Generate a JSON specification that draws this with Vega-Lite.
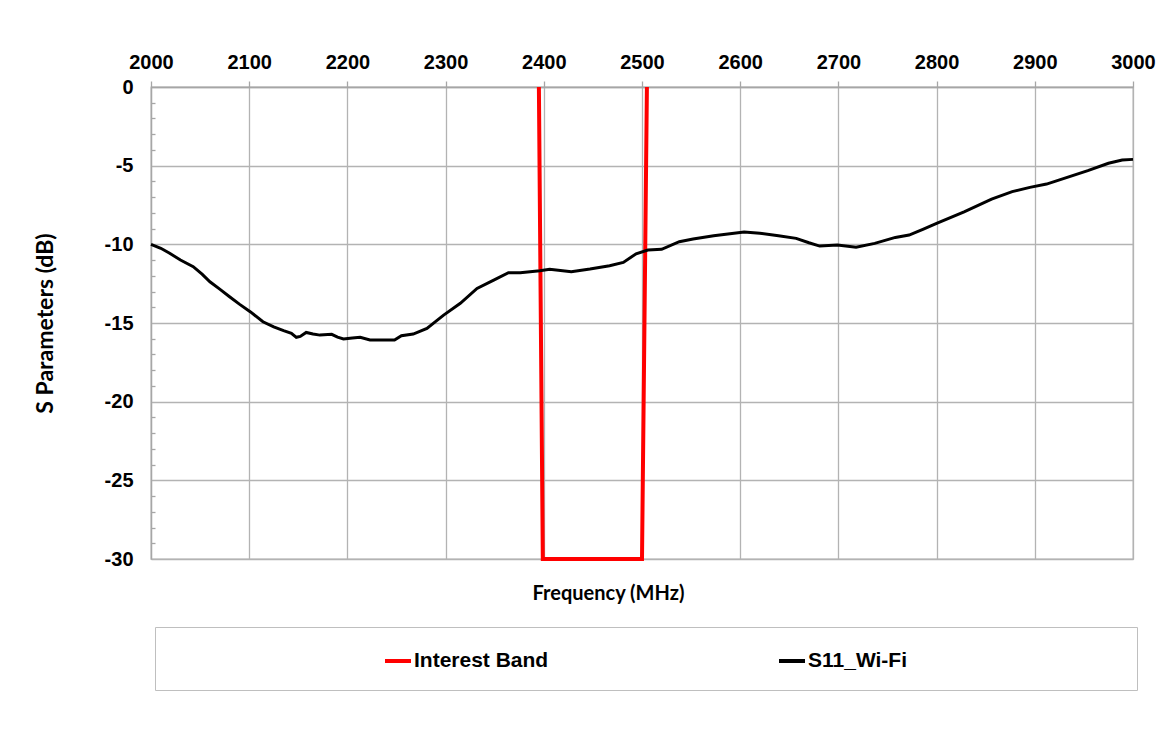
{
  "$schema": "https://vega.github.io/schema/vega-lite/v6.json",
  "width": 982,
  "height": 472,
  "autosize": {"type": "none"},
  "padding": {"left": 151, "top": 87, "right": 32, "bottom": 172},
  "background": "white",
  "config": {
    "view": {"stroke": "#b3b3b3", "strokeWidth": 1.3},
    "axis": {
      "gridColor": "#b3b3b3",
      "gridWidth": 1.3,
      "domainColor": "#a6a6a6",
      "domainWidth": 1.3,
      "tickColor": "#a6a6a6",
      "tickWidth": 1.3,
      "labelFont": "Liberation Sans",
      "labelFontSize": 20,
      "labelFontWeight": "bold",
      "labelColor": "#000000",
      "titleColor": "#000000",
      "titleFont": "Lato",
      "titleFontSize": 20,
      "titleFontWeight": "bold"
    },
    "legend": {
      "orient": "none",
      "legendX": 4,
      "legendY": 540,
      "direction": "horizontal",
      "strokeColor": "#bfbfbf",
      "fillColor": "#ffffff",
      "padding": 19,
      "labelFont": "Liberation Sans",
      "labelFontSize": 21,
      "labelFontWeight": "bold",
      "labelColor": "#000000",
      "labelOffset": 1,
      "labelLimit": 0,
      "symbolType": "stroke",
      "symbolSize": 676,
      "symbolStrokeWidth": 4,
      "columnPadding": 222,
      "titleOrient": "left",
      "titlePadding": 209
    }
  },
  "datasets": {
    "band": [
      {"series": "Interest Band", "f": 2395, "s": 0},
      {"series": "Interest Band", "f": 2399, "s": -30},
      {"series": "Interest Band", "f": 2500, "s": -30},
      {"series": "Interest Band", "f": 2505, "s": 0}
    ],
    "s11": [
      {"series": "S11_Wi-Fi", "f": 2000, "s": -10.0},
      {"series": "S11_Wi-Fi", "f": 2010, "s": -10.25},
      {"series": "S11_Wi-Fi", "f": 2019, "s": -10.57},
      {"series": "S11_Wi-Fi", "f": 2030, "s": -11.0},
      {"series": "S11_Wi-Fi", "f": 2043, "s": -11.42},
      {"series": "S11_Wi-Fi", "f": 2052, "s": -11.9},
      {"series": "S11_Wi-Fi", "f": 2060, "s": -12.38},
      {"series": "S11_Wi-Fi", "f": 2070, "s": -12.85},
      {"series": "S11_Wi-Fi", "f": 2080, "s": -13.33},
      {"series": "S11_Wi-Fi", "f": 2090, "s": -13.8},
      {"series": "S11_Wi-Fi", "f": 2101, "s": -14.28},
      {"series": "S11_Wi-Fi", "f": 2114, "s": -14.92},
      {"series": "S11_Wi-Fi", "f": 2125, "s": -15.25},
      {"series": "S11_Wi-Fi", "f": 2135, "s": -15.49},
      {"series": "S11_Wi-Fi", "f": 2143, "s": -15.65},
      {"series": "S11_Wi-Fi", "f": 2148, "s": -15.91},
      {"series": "S11_Wi-Fi", "f": 2152, "s": -15.85},
      {"series": "S11_Wi-Fi", "f": 2158, "s": -15.6},
      {"series": "S11_Wi-Fi", "f": 2165, "s": -15.7},
      {"series": "S11_Wi-Fi", "f": 2172, "s": -15.77},
      {"series": "S11_Wi-Fi", "f": 2184, "s": -15.72},
      {"series": "S11_Wi-Fi", "f": 2190, "s": -15.9},
      {"series": "S11_Wi-Fi", "f": 2196, "s": -16.02},
      {"series": "S11_Wi-Fi", "f": 2205, "s": -15.95},
      {"series": "S11_Wi-Fi", "f": 2213, "s": -15.91},
      {"series": "S11_Wi-Fi", "f": 2223, "s": -16.08},
      {"series": "S11_Wi-Fi", "f": 2237, "s": -16.08},
      {"series": "S11_Wi-Fi", "f": 2248, "s": -16.08},
      {"series": "S11_Wi-Fi", "f": 2255, "s": -15.81},
      {"series": "S11_Wi-Fi", "f": 2267, "s": -15.7},
      {"series": "S11_Wi-Fi", "f": 2281, "s": -15.34},
      {"series": "S11_Wi-Fi", "f": 2290, "s": -14.9},
      {"series": "S11_Wi-Fi", "f": 2298, "s": -14.5},
      {"series": "S11_Wi-Fi", "f": 2315, "s": -13.75},
      {"series": "S11_Wi-Fi", "f": 2332, "s": -12.8},
      {"series": "S11_Wi-Fi", "f": 2349, "s": -12.27},
      {"series": "S11_Wi-Fi", "f": 2364, "s": -11.8},
      {"series": "S11_Wi-Fi", "f": 2376, "s": -11.8},
      {"series": "S11_Wi-Fi", "f": 2396, "s": -11.68},
      {"series": "S11_Wi-Fi", "f": 2406, "s": -11.59},
      {"series": "S11_Wi-Fi", "f": 2428, "s": -11.74},
      {"series": "S11_Wi-Fi", "f": 2447, "s": -11.57},
      {"series": "S11_Wi-Fi", "f": 2467, "s": -11.36},
      {"series": "S11_Wi-Fi", "f": 2481, "s": -11.15},
      {"series": "S11_Wi-Fi", "f": 2494, "s": -10.6},
      {"series": "S11_Wi-Fi", "f": 2506, "s": -10.36},
      {"series": "S11_Wi-Fi", "f": 2520, "s": -10.32},
      {"series": "S11_Wi-Fi", "f": 2538, "s": -9.83},
      {"series": "S11_Wi-Fi", "f": 2552, "s": -9.66},
      {"series": "S11_Wi-Fi", "f": 2573, "s": -9.45},
      {"series": "S11_Wi-Fi", "f": 2604, "s": -9.22},
      {"series": "S11_Wi-Fi", "f": 2620, "s": -9.3},
      {"series": "S11_Wi-Fi", "f": 2639, "s": -9.45},
      {"series": "S11_Wi-Fi", "f": 2657, "s": -9.62},
      {"series": "S11_Wi-Fi", "f": 2670, "s": -9.9},
      {"series": "S11_Wi-Fi", "f": 2681, "s": -10.11},
      {"series": "S11_Wi-Fi", "f": 2699, "s": -10.04},
      {"series": "S11_Wi-Fi", "f": 2718, "s": -10.19},
      {"series": "S11_Wi-Fi", "f": 2737, "s": -9.94},
      {"series": "S11_Wi-Fi", "f": 2758, "s": -9.56},
      {"series": "S11_Wi-Fi", "f": 2772, "s": -9.41},
      {"series": "S11_Wi-Fi", "f": 2786, "s": -9.05},
      {"series": "S11_Wi-Fi", "f": 2800, "s": -8.67},
      {"series": "S11_Wi-Fi", "f": 2828, "s": -7.93},
      {"series": "S11_Wi-Fi", "f": 2856, "s": -7.12},
      {"series": "S11_Wi-Fi", "f": 2877, "s": -6.65},
      {"series": "S11_Wi-Fi", "f": 2895, "s": -6.38},
      {"series": "S11_Wi-Fi", "f": 2912, "s": -6.17},
      {"series": "S11_Wi-Fi", "f": 2933, "s": -5.74},
      {"series": "S11_Wi-Fi", "f": 2954, "s": -5.32},
      {"series": "S11_Wi-Fi", "f": 2975, "s": -4.85},
      {"series": "S11_Wi-Fi", "f": 2989, "s": -4.64},
      {"series": "S11_Wi-Fi", "f": 3000, "s": -4.6}
    ]
  },
  "layer": [
    {
      "data": {"name": "band"},
      "mark": {"type": "line", "strokeWidth": 4, "strokeJoin": "miter", "clip": false},
      "encoding": {
        "x": {
          "field": "f",
          "type": "quantitative",
          "scale": {"domain": [2000, 3000], "nice": false, "zero": false},
          "axis": {
            "orient": "bottom",
            "labels": false,
            "ticks": false,
            "domain": false,
            "grid": false,
            "title": "Frequency (MHz)",
            "titleX": 457,
            "titleY": 40,
            "titleAlign": "center",
            "titleBaseline": "alphabetic"
          }
        },
        "y": {
          "field": "s",
          "type": "quantitative",
          "scale": {"domain": [-30, 0], "nice": false, "zero": false},
          "axis": {
            "values": [-30, -29, -28, -27, -26, -25, -24, -23, -22, -21, -20, -19, -18, -17, -16, -15, -14, -13, -12, -11, -10, -9, -8, -7, -6, -5, -4, -3, -2, -1, 0],
            "tickCount": 40,
            "labelExpr": "datum.value % 5 === 0 ? '' + datum.value : ''",
            "labelOverlap": false,
            "grid": true,
            "gridOpacity": {"condition": {"test": "datum.value % 5 === 0", "value": 1}, "value": 0},
            "tickOpacity": {"condition": {"test": "datum.value % 5 === 0", "value": 0}, "value": 1},
            "tickSize": -4,
            "labelPadding": 22,
            "title": "S Parameters (dB)",
            "titleFontSize": 23,
            "titleX": -99,
            "titleY": 236,
            "titleAngle": -90,
            "titleAlign": "center",
            "titleBaseline": "alphabetic"
          }
        },
        "color": {
          "field": "series",
          "type": "nominal",
          "scale": {"domain": ["Interest Band", "S11_Wi-Fi"], "range": ["#ff0000", "#000000"]},
          "legend": {
            "title": "\u00a0",
            "labelExpr": "datum.label == 'S11_Wi-Fi' ? 'S11_Wi-Fi\u00a0\u00a0\u00a0\u00a0\u00a0\u00a0\u00a0\u00a0\u00a0\u00a0\u00a0\u00a0\u00a0\u00a0\u00a0\u00a0\u00a0\u00a0\u00a0\u00a0\u00a0\u00a0\u00a0\u00a0\u00a0\u00a0\u00a0\u00a0\u00a0\u00a0\u00a0\u00a0\u00a0\u00a0\u00a0\u00a0\u200b' : datum.label"
          }
        }
      }
    },
    {
      "data": {"name": "s11"},
      "mark": {"type": "line", "strokeWidth": 3},
      "encoding": {
        "x": {
          "field": "f",
          "type": "quantitative",
          "scale": {"domain": [2000, 3000], "nice": false, "zero": false},
          "axis": {
            "orient": "top",
            "values": [2000, 2100, 2200, 2300, 2400, 2500, 2600, 2700, 2800, 2900, 3000],
            "format": "d",
            "grid": true,
            "tickSize": 6,
            "labelPadding": 9,
            "labelFlush": false,
            "title": null
          }
        },
        "y": {"field": "s", "type": "quantitative"},
        "color": {"field": "series", "type": "nominal"}
      }
    }
  ],
  "resolve": {"axis": {"x": "independent"}}
}
